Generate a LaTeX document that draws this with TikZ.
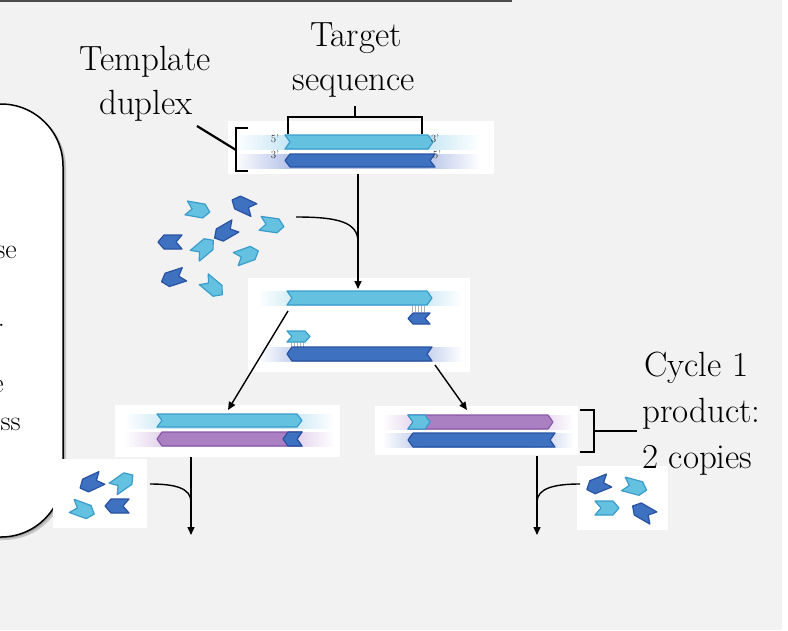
\documentclass[tikz,border=0pt]{standalone}
\usetikzlibrary{arrows.meta}
\definecolor{bg}{HTML}{F2F2F2}
\definecolor{lbF}{HTML}{64C2E0}
\definecolor{lbD}{HTML}{3A9CCB}
\definecolor{dbF}{HTML}{3E72C1}
\definecolor{dbD}{HTML}{2852A0}
\definecolor{puF}{HTML}{AB80C2}
\definecolor{puD}{HTML}{8859A6}
\definecolor{bandL}{HTML}{C6E6F4}
\definecolor{bandB}{HTML}{B6C4E9}
\definecolor{bandP}{HTML}{DCCAE8}
\pgfdeclarehorizontalshading{shL}{100bp}{color(0bp)=(white); color(25bp)=(white); color(36bp)=(bandL); color(64bp)=(bandL); color(75bp)=(white); color(100bp)=(white)}
\pgfdeclarehorizontalshading{shB}{100bp}{color(0bp)=(white); color(25bp)=(white); color(36bp)=(bandB); color(64bp)=(bandB); color(75bp)=(white); color(100bp)=(white)}
\pgfdeclarehorizontalshading{shP}{100bp}{color(0bp)=(white); color(25bp)=(white); color(36bp)=(bandP); color(64bp)=(bandP); color(75bp)=(white); color(100bp)=(white)}
\newcommand\dnaR[5]{\path[#5] (#1,#3) -- ({#2-5},#3) -- (#2,{(#3+#4)/2}) -- ({#2-5},#4) -- (#1,#4) -- ({#1+5},{(#3+#4)/2}) -- cycle;}
\newcommand\dnaL[5]{\path[#5] ({#1+5},#3) -- (#2,#3) -- ({#2-5},{(#3+#4)/2}) -- (#2,#4) -- ({#1+5},#4) -- (#1,{(#3+#4)/2}) -- cycle;}
\newcommand\primR[3]{\path[lb,shift={(#1,#2)},rotate=#3] (-12,-7) -- (6,-7) -- (12,0) -- (6,7) -- (-12,7) -- (-6,0) -- cycle;}
\newcommand\primL[3]{\path[db,shift={(#1,#2)},rotate=#3] (12,-7) -- (-6,-7) -- (-12,0) -- (-6,7) -- (12,7) -- (6,0) -- cycle;}
\tikzset{
  lb/.style={fill=lbF,draw=lbD,line width=1.2pt,line join=round},
  db/.style={fill=dbF,draw=dbD,line width=1.2pt,line join=round},
  pu/.style={fill=puF,draw=puD,line width=1.2pt,line join=round},
  panel/.style={fill=white,draw=none,inner sep=0pt},
  big/.style={font=\fontsize{35}{42}\selectfont,inner sep=0pt,anchor=base},
  frag/.style={font=\fontsize{28}{28}\selectfont,inner sep=0pt,anchor=base east},
  lab/.style={font=\fontsize{11}{11}\selectfont,text=black!80,inner sep=0pt},
  arr/.style={line width=1.4pt,-{Triangle[length=8pt,width=7pt]}},
  feed/.style={line width=1.4pt},
  brk/.style={line width=2.6pt,line join=miter},
  hb/.style={line width=0.5pt,draw=black!30}
}
\begin{document}
\begin{tikzpicture}[x=1pt,y=-1pt]
\useasboundingbox (0,0) rectangle (788,630);
\clip (0,0) rectangle (788,630);
\fill[white] (0,0) rectangle (788,630);
\fill[bg] (0,0) rectangle (782,630);
\draw[line width=2.5pt,black!70] (0,1) -- (512,1);

% left rounded panel
\fill[black!22] [rounded corners=62pt] (-77,106) rectangle (66,540);
\fill[black!35] [rounded corners=62pt] (-78,105) rectangle (64.5,538.5);
\draw[fill=white,line width=1.5pt,rounded corners=62pt] (-80,104) rectangle (63,537);
\node[frag] (t1) at (17,258) {se};
\node[frag] (t2) at (5,326) {.};
\node[frag] (t3) at (4,392) {e};
\node[frag] (t4) at (21,430) {ss};

% panels
\node[panel,minimum width=266pt,minimum height=53pt] (p1) at (361,147.5) {};
\node[panel,minimum width=222pt,minimum height=94pt] (p2) at (359,325) {};
\node[panel,minimum width=225pt,minimum height=52pt] (p3) at (227.5,431) {};
\node[panel,minimum width=203pt,minimum height=49pt] (p4) at (476.5,430.5) {};
\node[panel,minimum width=94pt,minimum height=69pt] (pb1) at (100,493.5) {};
\node[panel,minimum width=91pt,minimum height=64pt] (pb2) at (622.5,498) {};

% bands
\shade[shading=shL] (234,135) rectangle (480,149);
\shade[shading=shB] (234,154) rectangle (480,168);
\shade[shading=shL] (258,291) rectangle (462,305);
\shade[shading=shB] (258,347) rectangle (462,361);
\shade[shading=shL] (124,414) rectangle (334,428);
\shade[shading=shP] (124,432) rectangle (334,446);
\shade[shading=shP] (382,415) rectangle (574,429);
\shade[shading=shB] (382,433) rectangle (574,447);

% panel 1 strands
\dnaR{285}{433}{135}{149}{lb}
\dnaL{285}{435}{154}{167}{db}
\node[lab] (l1) at (275,139) {5'};
\node[lab] (l2) at (435,139) {3'};
\node[lab] (l3) at (275,155) {3'};
\node[lab] (l4) at (437,155) {5'};

% panel 2 strands
\foreach \x in {412,415,...,426} \draw[hb] (\x,306) -- (\x,312);
\foreach \x in {291,294,...,305} \draw[hb] (\x,342) -- (\x,347);
\dnaR{287}{432}{291}{305}{lb}
\dnaL{408}{430}{313}{324}{db}
\dnaR{287}{310}{331}{342}{lb}
\dnaL{287}{432}{347}{361}{db}

% panel 3 strands
\dnaR{157}{302}{414}{427}{lb}
\dnaL{157}{302}{432}{446}{pu}
\dnaL{283}{302}{432}{446}{db}

% panel 4 strands
\dnaR{408}{553}{415}{429}{pu}
\dnaR{408}{430}{415}{429}{lb}
\dnaL{408}{555}{433}{447}{db}

% scattered primers
\primR{198}{210}{-10}
\primL{243}{205}{-25}
\primR{272}{225}{-8}
\primL{225}{232}{30}
\primL{170}{242}{0}
\primR{204}{248}{40}
\primR{247}{255}{20}
\primL{173}{278}{18}
\primR{213}{287}{-40}
% primer box left
\primL{91}{483}{25}
\primR{123}{482}{35}
\primR{83}{510}{-20}
\primL{117}{506}{0}
% primer box right
\primL{598}{485}{22}
\primR{635}{487}{-15}
\primR{607}{508}{0}
\primL{643}{512}{-30}

% brackets
\draw[brk] (288,134) -- (288,117) -- (422,117) -- (422,134);
\draw[brk] (355,117) -- (355,106);
\draw[brk] (248,128) -- (236,128) -- (236,171) -- (248,171);
\draw[line width=2.2pt] (236,150) -- (197,126);
\draw[brk] (580,410) -- (594,410) -- (594,452) -- (580,452);
\draw[line width=2.2pt] (594,431) -- (637,431);

% connectors
\coordinate (a1s) at (358,174);
\coordinate (a1e) at (358,289);
\draw[arr] (a1s) -- (a1e);
\coordinate (f1s) at (296,217);
\coordinate (f1e) at (358,242);
\draw[feed] (f1s) .. controls (338,217) and (358,222) .. (f1e);
\coordinate (a2s) at (288,311);
\coordinate (a2e) at (228,410);
\draw[arr] (a2s) -- (a2e);
\coordinate (a3s) at (435,365);
\coordinate (a3e) at (467,410);
\draw[arr] (a3s) -- (a3e);
\coordinate (a4s) at (191,457);
\coordinate (a4e) at (191,535);
\draw[arr] (a4s) -- (a4e);
\coordinate (f4s) at (150,484);
\coordinate (f4e) at (191,502);
\draw[feed] (f4s) .. controls (175,484) and (191,488) .. (f4e);
\coordinate (a5s) at (537,456);
\coordinate (a5e) at (537,535);
\draw[arr] (a5s) -- (a5e);
\coordinate (f5s) at (580,484);
\coordinate (f5e) at (537,502);
\draw[feed] (f5s) .. controls (555,484) and (537,488) .. (f5e);

% big labels
\node[big] (tpl) at (145,70) {Template};
\node[big] (dup) at (146,114) {duplex};
\node[big] (tgt) at (356,46) {Target};
\node[big] (seq) at (354,90) {sequence};
\node[big,anchor=base west] (cyc) at (644,376) {Cycle 1};
\node[big,anchor=base west] (prd) at (642,422) {product:};
\node[big,anchor=base west] (cop) at (642,468) {2 copies};
\end{tikzpicture}
\end{document}
